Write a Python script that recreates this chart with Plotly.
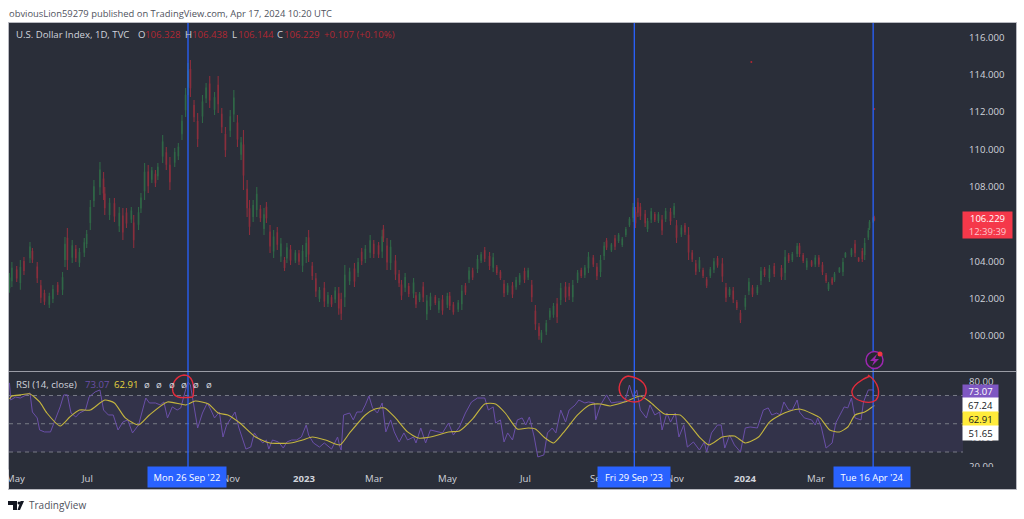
import pandas as pd
import plotly.graph_objects as go

W, H = 1024, 519
START = pd.Timestamp("2022-05-01")

# ---------- data ----------
bar_day = [0,2,6,9,12,17,19,23,26,29,33,36,40,44,46,48,52,55,58,62,64,67,70,75,78,79,83,87,91,94,97,101,103,107,109,112,115,118,121,123,
127,130,133,137,140,143,146,148,150,153,156,160,163,166,170,173,176,179,183,186,189,192,194,197,199,202,205,208,211,213,216,219,222,225,228,230,233,237,240,243,
246,248,251,254,257,261,264,267,270,273,275,278,282,286,289,292,295,299,302,306,309,310,313,316,320,323,325,328,331,335,337,340,343,346,349,353,356,359,363,365,
368,372,375,378,381,384,388,391,394,398,401,404,407,410,413,417,420,423,427,430,433,436,439,441,445,448,451,454,457,461,464,467,471,474,477,480,484,487,490,493,
495,499,502,505,508,511,514,517,519,521,523,527,529,532,535,538,541,544,548,551,553,557,560,563,566,569,572,575,578,581,584,587,591,594,597,600,603,606,610,613,
616,620,623,626,630,634,640,643,646,649,653,655,658,661,665,668,671,674,677,679,682,684,688,691,693,698,701,704,707,709,712,713,716,717]
high = [103.37,103.96,103.74,104.06,104.22,105.03,104.71,103.96,102.99,102.46,102.30,102.72,102.88,103.42,105.30,105.78,105.14,104.87,104.71,105.24,105.67,107.28,108.35,109.32,108.78,107.98,107.39,107.39,106.90,106.85,106.85,106.90,106.48,106.90,107.66,109.26,109.16,109.05,108.89,109.26,
110.76,110.12,109.58,110.07,110.34,111.84,113.28,114.62,114.78,112.64,111.94,112.91,113.55,113.93,113.07,113.93,112.21,111.19,112.10,113.18,111.84,110.66,111.03,108.35,107.28,107.28,107.98,107.01,106.85,107.17,105.94,105.67,105.83,105.24,104.22,104.98,104.87,104.60,104.60,104.87,
105.30,105.67,103.96,103.37,102.62,102.88,102.35,102.19,102.62,102.62,102.30,103.80,103.64,103.90,104.17,104.71,104.87,105.40,105.14,105.03,105.67,105.94,105.24,105.14,104.33,103.53,102.99,103.37,102.83,103.10,102.35,102.35,102.88,102.19,102.30,102.19,102.03,102.19,102.30,102.35,
101.81,101.92,102.72,102.83,103.69,103.64,104.33,104.49,104.76,104.49,104.44,103.80,103.53,102.99,102.83,102.88,103.15,103.37,103.64,103.64,102.99,101.65,100.69,100.31,100.85,101.49,101.76,102.03,102.83,102.88,102.83,102.99,103.53,103.64,103.80,104.49,104.33,103.90,104.33,105.03,
105.24,104.98,105.40,105.51,105.30,105.83,106.37,107.12,106.90,107.39,107.12,106.74,106.32,106.85,106.64,106.64,106.48,106.85,106.85,107.12,106.21,105.94,106.05,105.83,104.60,104.06,104.22,103.64,103.15,103.69,104.17,104.28,104.17,102.83,102.62,102.62,101.92,101.38,102.19,103.10,
102.72,102.72,103.69,103.69,103.80,103.90,103.80,104.60,104.44,104.49,104.98,104.98,104.44,104.17,104.06,104.33,104.33,103.96,103.37,102.88,103.15,103.42,103.69,104.17,104.49,104.71,105.14,104.22,104.71,105.24,105.78,106.21,106.37,106.438]
low = [102.30,102.62,102.88,102.46,103.26,103.90,103.90,102.83,101.76,101.65,101.49,101.76,102.19,102.19,103.69,103.53,103.90,103.96,103.69,104.22,104.71,105.67,106.90,107.55,107.28,106.48,106.21,106.10,105.56,105.14,105.78,106.05,104.71,105.67,106.58,107.28,107.66,108.19,107.98,108.35,
109.26,108.89,107.82,109.05,109.42,110.50,111.73,112.91,112.80,111.46,110.12,111.41,112.48,112.21,111.84,111.94,110.87,109.58,110.66,111.46,110.12,109.42,107.82,106.37,105.40,106.10,106.37,106.10,105.40,106.05,104.44,104.17,104.60,103.96,103.47,103.90,103.80,103.90,103.80,103.42,
103.90,103.96,102.99,102.08,101.81,101.54,101.54,101.54,101.76,101.12,100.85,101.54,102.72,102.62,103.15,103.80,103.90,104.17,104.17,104.17,104.17,105.03,103.53,103.53,102.99,102.62,101.92,102.35,102.08,102.03,101.49,101.81,101.81,100.85,101.38,101.65,101.22,101.12,101.49,101.38,
101.12,101.28,101.38,102.19,102.83,102.99,103.37,103.90,103.96,103.53,103.42,103.26,102.99,102.08,102.19,102.03,102.46,102.72,102.83,102.99,101.81,100.31,99.78,99.62,100.04,100.85,100.96,100.69,101.65,101.81,101.92,101.81,102.83,103.10,103.10,103.37,103.69,102.99,103.15,104.06,
104.60,104.49,104.60,104.98,104.76,105.30,105.83,106.10,105.78,106.37,106.21,105.83,105.56,106.05,106.10,106.05,105.40,106.10,105.94,106.32,104.98,105.30,105.40,104.06,103.96,103.26,103.42,103.10,102.56,103.10,103.37,103.64,102.88,101.81,102.08,101.76,101.38,100.69,101.38,102.19,
102.08,102.19,102.72,103.15,102.88,103.15,102.99,102.99,103.90,103.96,104.22,104.22,103.90,103.53,103.69,103.69,103.69,103.26,102.83,102.40,102.72,102.88,103.37,103.21,104.17,104.22,104.22,103.96,103.96,104.06,105.14,105.67,106.05,106.144]
open_ = [102.57,102.95,103.52,102.86,103.98,104.18,104.51,103.68,102.68,102.26,101.69,102.00,102.71,102.50,104.09,105.22,104.21,104.64,103.95,104.48,104.95,106.07,107.26,107.99,108.40,107.60,106.50,107.07,105.90,106.42,106.58,106.26,106.04,105.98,106.85,107.78,108.78,108.40,108.66,108.58,
109.64,109.81,109.14,109.30,109.65,110.84,112.12,113.34,114.28,112.35,111.48,111.78,112.75,113.50,112.15,113.43,111.87,110.79,111.02,111.89,111.41,109.73,110.23,107.85,106.81,106.40,106.77,106.78,105.76,106.89,105.56,104.55,105.52,104.28,104.03,104.17,104.60,104.07,104.40,103.78,
104.25,105.24,103.72,103.05,102.01,102.55,101.74,102.03,101.97,102.25,101.94,102.10,102.95,103.58,103.40,104.48,104.14,104.48,104.90,104.82,104.54,105.71,104.81,103.93,104.00,103.30,102.72,102.60,102.64,102.30,102.14,101.95,102.61,101.18,101.61,102.06,101.42,101.92,101.69,102.11,
101.64,101.44,101.72,102.67,103.05,103.48,103.61,104.05,104.56,104.25,103.68,103.67,103.40,102.76,102.35,102.67,102.63,102.88,103.44,103.15,102.70,101.31,100.46,99.79,100.24,101.01,101.16,101.70,101.95,102.61,102.60,102.10,103.00,103.50,103.27,103.65,104.17,103.67,103.45,104.30,
105.08,104.61,105.20,105.11,104.89,105.43,105.96,106.35,106.62,107.13,106.89,106.51,105.75,106.25,106.50,106.20,106.21,106.29,106.62,106.52,105.90,105.46,105.89,105.39,104.44,103.86,103.62,103.50,103.00,103.25,103.57,104.12,103.85,102.57,102.22,102.40,101.78,101.21,101.58,102.42,
102.56,102.32,102.96,103.55,103.11,103.71,103.60,103.39,104.30,104.09,104.41,104.79,104.30,103.69,103.97,103.85,104.17,103.78,103.23,102.52,103.04,103.01,103.45,103.45,104.25,104.34,104.91,104.15,104.52,104.36,105.30,105.80,106.13,106.328]
close = [103.10,103.62,103.10,103.66,103.50,104.75,104.10,103.11,102.07,101.85,102.10,102.48,102.36,103.11,104.90,104.09,104.83,104.19,104.46,104.98,105.43,106.88,107.99,108.88,107.66,106.86,107.10,106.42,106.56,105.57,106.05,106.69,105.15,106.59,107.39,108.76,108.04,108.84,108.21,109.03,
110.38,109.20,108.26,109.82,110.11,111.50,112.89,114.19,113.30,111.75,110.58,112.53,113.28,112.64,112.76,112.44,111.21,109.98,111.74,112.75,110.55,110.35,108.62,106.87,105.87,106.98,107.58,106.33,106.49,106.33,104.82,105.29,104.91,104.92,103.66,104.71,104.07,104.43,104.00,104.51,
104.95,104.39,103.23,102.40,102.42,101.87,102.15,101.70,102.40,101.49,101.21,103.24,103.41,102.94,103.92,104.03,104.63,105.09,104.41,104.38,105.30,105.26,103.96,104.74,103.32,102.85,102.19,103.12,102.27,102.83,101.70,102.22,102.08,101.86,102.07,101.78,101.83,101.39,102.10,101.62,
101.29,101.76,102.38,102.35,103.47,103.15,104.09,104.34,104.16,103.77,104.18,103.40,103.13,102.31,102.67,102.24,102.98,103.21,103.03,103.48,102.10,100.65,100.01,100.14,100.65,101.33,101.56,101.02,102.53,102.08,102.15,102.69,103.36,103.24,103.63,104.21,103.85,103.22,104.03,104.79,
104.76,104.86,104.80,105.38,105.17,105.70,106.24,106.86,106.06,106.62,106.44,106.06,106.13,106.65,106.24,106.49,105.67,106.66,106.17,106.92,105.29,105.78,105.56,104.50,104.12,103.46,104.02,103.24,102.71,103.54,103.97,103.80,103.20,102.07,102.48,101.98,101.52,100.86,101.99,102.87,
102.24,102.59,103.45,103.29,103.57,103.34,103.19,104.20,104.04,104.36,104.79,104.41,104.04,104.01,103.78,104.17,103.85,103.44,102.97,102.76,102.83,103.29,103.61,103.93,104.41,104.59,104.45,104.03,104.15,104.94,105.62,106.08,106.29,106.229]

rsi_day = [0,1,5,9,14,17,19,23,25,29,34,38,42,45,48,51,55,58,63,66,71,75,78,82,86,90,94,98,102,107,110,113,116,121,125,128,131,135,139,142,146,148,150,153,156,160,164,167,170,174,177,180,184,187,190,194,196,200,203,206,210,213,215,218,223,227,230,234,238,242,246,248,252,257,261,267,272,274,275,277,
282,285,288,292,295,298,301,305,309,312,316,319,323,327,330,335,337,341,345,349,355,359,364,368,373,378,383,388,394,397,401,403,407,410,413,417,421,425,428,431,435,438,443,446,450,453,457,461,464,469,472,477,480,485,486,490,495,499,504,510,514,517,520,523,528,531,535,539,541,545,548,552,555,559,562,567,572,576,578,582,587,590,593,597,601,606,610,614,620,625,629,632,636,639,642,646,649,653,655,659,665,668,670,673,677,682,685,688,692,695,698,701,706,708,712,716,717]
rsi = [78.9,66.8,68.9,68.2,70.4,71.8,58.3,54.1,45.6,44.2,44.2,52.7,61.9,70.4,70.4,57.6,54.8,57.6,59.7,68.9,72.5,73.9,59.7,56.2,56.2,45.6,51.2,52.7,43.5,49.1,59.7,68.2,64.7,64.7,63.3,65.4,54.1,61.9,59.7,61.2,73.9,79.6,77.4,61.9,47.0,57.6,64.7,59.7,54.1,58.3,40.6,49.1,54.8,58.3,47.7,36.4,32.1,33.5,43.5,39.9,36.4,38.5,32.1,38.5,37.1,32.8,37.1,38.5,38.5,40.6,49.1,42.0,36.4,33.5,36.4,32.1,40.6,33.5,31.4,56.2,
57.6,52.7,58.3,58.3,63.3,69.6,61.2,57.6,64.7,44.2,52.7,44.2,37.1,43.5,38.5,40.6,36.4,47.0,36.4,45.6,44.2,43.5,50.5,42.0,47.7,57.6,65.4,68.2,68.2,59.7,61.9,50.5,52.7,37.1,43.5,38.5,52.7,54.1,49.1,54.8,40.6,26.5,27.9,43.5,47.0,43.5,59.7,51.2,59.7,63.3,66.8,64.7,65.4,64.7,52.7,63.3,70.4,64.7,65.4,65.4,77.4,68.9,73.9,59.7,54.1,63.3,56.2,58.3,45.6,57.6,51.2,57.6,40.6,49.1,33.5,37.1,31.4,37.1,30.0,43.5,49.1,49.1,32.8,42.0,35.0,30.0,47.0,47.7,47.0,59.7,61.2,56.2,57.6,56.2,65.4,59.7,59.7,66.8,58.3,54.1,52.7,49.1,54.1,47.7,32.8,36.4,50.5,55.5,61.9,61.2,68.2,54.1,52.7,65.4,73.9,73.9,73.07]

ma_day = [0,2,9,17,25,31,42,50,58,67,79,87,96,107,116,131,146,154,165,173,181,191,204,216,233,243,251,262,274,282,295,303,311,320,330,339,349,364,373,384,394,403,411,421,430,436,444,451,459,471,481,490,498,510,523,531,543,556,562,572,580,591,601,610,621,630,639,647,655,666,672,680,688,695,701,709,717]
rsi_ma = [67.5,69.6,70.4,71.1,65.4,57.6,48.4,54.8,59.7,59.7,66.8,64.7,54.1,49.1,56.2,65.4,63.3,66.1,64.0,57.6,56.2,50.5,40.6,36.4,36.4,38.5,40.6,38.5,35.0,43.5,56.2,60.4,61.2,54.1,44.2,39.9,40.6,44.2,44.9,53.4,64.0,64.0,57.6,46.3,47.0,46.3,39.9,36.4,43.5,56.2,63.3,64.0,62.6,65.4,69.6,65.4,56.9,56.2,51.2,40.6,35.0,40.6,41.3,36.4,40.6,51.2,56.2,59.0,60.4,56.9,54.1,45.6,44.2,47.7,56.2,58.3,62.91]

stray_day = [615, 717]
stray_price = [114.68, 112.16]

price_ticks = [100, 102, 104, 106, 108, 110, 112, 114, 116]
rsi_ticks = [20, 40, 60, 80]
month_day = [5, 64, 184, 244, 302, 363, 427, 488, 552, 610, 669]
month_label = ["May", "Jul", "Nov", "2023", "Mar", "May", "Jul", "Sep", "Nov", "2024", "Mar"]
marker_day = [148, 518, 716]
marker_label = ["Mon 26 Sep '22", "Fri 29 Sep '23", "Tue 16 Apr '24"]
# -------------------------------------------------

def to_date(days):
    return START + pd.to_timedelta(days, unit="D")

FONT = "Open Sans"
BG = "#2a2e39"
TXT = "#d1d4dc"
RED = "#b22833"

def px(x):
    return x / W
def py(y):
    return 1 - y / H
def path(cmds):
    out = []
    for c in cmds:
        if isinstance(c, str):
            out.append(c)
        else:
            out.append(f"{px(c[0]):.5f},{py(c[1]):.5f}")
    return " ".join(out)
def rect(x0, y0, x1, y1, **kw):
    return dict(type="rect", xref="paper", yref="paper", x0=px(x0), x1=px(x1), y0=py(y1), y1=py(y0), **kw)

fig = go.Figure()
fig.add_trace(go.Candlestick(
    x=to_date(bar_day), open=open_, high=high, low=low, close=close,
    increasing=dict(line=dict(color="#2f6746", width=1.1), fillcolor="#2f6746"),
    decreasing=dict(line=dict(color="#8a2e3c", width=1.1), fillcolor="#8a2e3c"),
    whiskerwidth=0, hoverinfo="skip", showlegend=False, xaxis="x", yaxis="y"))
fig.add_trace(go.Scatter(x=to_date(stray_day), y=stray_price, mode="markers",
    marker=dict(size=2, color="#b22833"), hoverinfo="skip", showlegend=False))
fig.add_trace(go.Scatter(x=to_date(rsi_day), y=rsi, mode="lines", line=dict(color="#6a4fa8", width=1),
    hoverinfo="skip", showlegend=False, xaxis="x", yaxis="y2"))
fig.add_trace(go.Scatter(x=to_date(ma_day), y=rsi_ma, mode="lines", line=dict(color="#c4b53e", width=1.1, shape="spline", smoothing=0.6),
    hoverinfo="skip", showlegend=False, xaxis="x", yaxis="y2"))

shapes = [
    rect(8.5, 22.5, 1016.5, 489.5, fillcolor=BG, line=dict(width=0), layer="below"),
    dict(type="rect", xref="x domain", yref="y2", x0=0, x1=1, y0=30, y1=70, fillcolor="rgba(126,87,194,0.12)", line=dict(width=0), layer="below"),
]
for lv in (70, 50, 30):
    shapes.append(dict(type="line", xref="x domain", yref="y2", x0=0, x1=1, y0=lv, y1=lv,
                       line=dict(color="#787b86", width=1, dash="4px,4px"), layer="below"))
for d in marker_day:
    shapes.append(dict(type="line", xref="x", yref="paper", x0=to_date(d), x1=to_date(d), y0=py(467), y1=py(23),
                       line=dict(color="#2962ff", width=1.3), layer="above"))
# axis strip that clips the RSI pane
shapes.append(rect(9, 467, 1016, 489, fillcolor=BG, line=dict(width=0), layer="above"))
shapes.append(dict(type="line", xref="paper", yref="paper", x0=px(9), x1=px(1016), y0=py(371.5), y1=py(371.5),
                   line=dict(color="#9a9ca5", width=1), layer="above"))
shapes.append(rect(8.5, 22.5, 1016.5, 489.5, fillcolor="rgba(0,0,0,0)", line=dict(color="#b8b9c0", width=1), layer="above"))
# hand-drawn red circles
for cmds in (
    [ "M", (193, 397), "C", (184, 398), (175, 399), (173, 392), "C", (171, 384), (176, 376), (184, 375), "C", (192, 375), (195, 384), (193, 397)],
    [ "M", (628, 376), "C", (620, 378), (617, 388), (621, 395), "C", (626, 403), (640, 405), (645, 396), "C", (649, 387), (643, 378), (628, 376)],
    [ "M", (870, 376), "C", (862, 379), (851, 386), (852, 393), "C", (853, 401), (870, 405), (876, 400), "C", (881, 394), (879, 382), (868, 375)],
):
    shapes.append(dict(type="path", xref="paper", yref="paper", path=path(cmds), line=dict(color="#e52c3c", width=1.4), layer="above"))
# alert icon
shapes.append(dict(type="circle", xref="paper", yref="paper", x0=px(866), x1=px(883), y0=py(368.5), y1=py(351.5),
                   fillcolor="#252830", line=dict(color="#9c27b0", width=1.5), layer="above"))
shapes.append(dict(type="path", xref="paper", yref="paper",
                   path=path(["M", (877, 354), "L", (870, 361), "L", (874, 361), "L", (872, 366), "L", (879, 359), "L", (875, 359), "Z"]),
                   fillcolor="#9c27b0", line=dict(width=0), layer="above"))
shapes.append(dict(type="circle", xref="paper", yref="paper", x0=px(877.5), x1=px(882.5), y0=py(356.5), y1=py(351.5),
                   fillcolor="#f23645", line=dict(width=0), layer="above"))
# TradingView logo
shapes.append(dict(type="path", xref="paper", yref="paper",
                   path=path(["M", (8, 501), "L", (17, 501), "L", (17, 510), "L", (13, 510), "L", (13, 505), "L", (8, 505), "Z"]),
                   fillcolor="#131722", line=dict(width=0)))
shapes.append(dict(type="path", xref="paper", yref="paper",
                   path=path(["M", (20, 510), "L", (24, 501), "L", (20.5, 501), "L", (17.5, 510), "Z"]),
                   fillcolor="#131722", line=dict(width=0)))
shapes.append(dict(type="circle", xref="paper", yref="paper", x0=px(17.5), x1=px(20.5), y0=py(504.5), y1=py(501.5),
                   fillcolor="#131722", line=dict(width=0)))

ann = []
def text(x, y, s, color=TXT, size=10, anchor="left", **kw):
    ann.append(dict(xref="paper", yref="paper", x=px(x), y=py(y), text=s, showarrow=False, xanchor=anchor, yanchor="middle",
                    font=dict(family=FONT, size=size, color=color), borderpad=0, **kw))
def box(x0, x1, y0, y1, s, bg, color, size=9.5):
    ann.append(dict(xref="paper", yref="paper", x=px((x0 + x1) / 2), y=py((y0 + y1) / 2), text=s, showarrow=False,
                    xanchor="center", yanchor="middle", width=x1 - x0, height=y1 - y0, bgcolor=bg, borderpad=0, align="center",
                    font=dict(family=FONT, size=size, color=color)))

text(8, 13, "obviousLion59279 published on TradingView.com, Apr 17, 2024 10:20 UTC", color="#50535e", size=9.4)
text(15, 35, "U.S. Dollar Index, 1D, TVC", size=9.6)
for x, s in ((137, "O"), (184, "H"), (231, "L"), (276, "C")):
    text(x, 35, s, size=9.6)
for x, s in ((144, "106.328"), (191, "106.438"), (237, "106.144"), (283, "106.229"), (323, "+0.107 (+0.10%)")):
    text(x, 35, s, color=RED, size=9.6)
text(15, 384, "RSI (14, close)", size=9.6)
text(84, 384, "73.07", color="#6a4fa8", size=9.6)
text(113, 384, "62.91", color="#e8d63f", size=9.6)
for x in (147, 159, 172, 184, 196, 209):
    text(x, 384, "ø", anchor="center", size=9.6)
for d, s in zip(month_day, month_label):
    ann.append(dict(x=to_date(d), xref="x", yref="paper", y=py(478), text=f"<b>{s}</b>" if s.isdigit() else s, showarrow=False,
                    xanchor="center", yanchor="middle", font=dict(family=FONT, size=9.6, color=TXT)))
box(0, 8, 470, 488, " ", "#ffffff", "#ffffff")
for d, s, (x0, x1) in zip(marker_day, marker_label, ((148, 226), (598, 670), (834, 910))):
    box(x0, x1, 467, 487, s, "#2962ff", "#ffffff", size=9.4)
box(963, 998, 385, 398, "73.07", "#7e57c2", "#ffffff")
box(963, 998, 398, 412, "67.24", "#ffffff", "#131722")
box(963, 998, 412, 426, "62.91", "#ffeb3b", "#131722")
box(963, 998, 426, 440, "51.65", "#ffffff", "#131722")
box(963, 1012, 212, 238, "106.229<br><span style='color:#ffc9ce'>12:39:39</span>", "#f5384a", "#ffffff")
text(28, 505, "TradingView", color="#50535e", size=10)

fig.update_layout(
    width=W, height=H, margin=dict(l=0, r=0, t=0, b=0, autoexpand=False), paper_bgcolor="#ffffff", plot_bgcolor="rgba(0,0,0,0)",
    showlegend=False, shapes=shapes, annotations=ann, font=dict(family=FONT),
    xaxis=dict(domain=[px(9), px(963)], range=[to_date(-0.4), to_date(790.5)], type="date", anchor="y2",
               showgrid=False, zeroline=False, showticklabels=False, ticks="", showline=False,
               rangeslider=dict(visible=False)),
    yaxis=dict(domain=[py(371), py(23)], range=[98.11, 116.77], side="right", anchor="x", showgrid=False, zeroline=False,
               showline=False, ticks="", tickvals=price_ticks, tickformat=".3f", ticklabelstandoff=5, tickfont=dict(family=FONT, size=9.6, color=TXT)),
    yaxis2=dict(domain=[py(467), py(372)], range=[19.4, 86.6], side="right", anchor="x", showgrid=False, zeroline=False,
                showline=False, ticks="", tickvals=rsi_ticks, tickformat=".2f", ticklabelstandoff=5, tickfont=dict(family=FONT, size=9.6, color=TXT)),
)

fig.write_html("out.html", config=dict(displayModeBar=False), post_script="document.body.style.margin='0';document.body.style.overflow='hidden';")
